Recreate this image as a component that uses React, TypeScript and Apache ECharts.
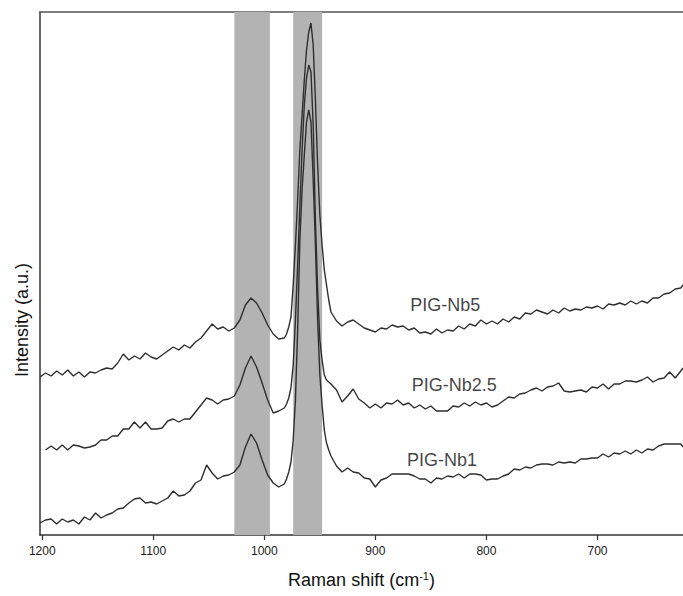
import React, { useEffect, useRef } from "react";
import * as echarts from "echarts";

// Raman shift (cm-1), shared x grid
const ramanShift = [
  1202, 1197, 1192, 1187, 1182, 1177, 1172, 1167, 1162, 1157, 1152, 1147, 1142, 1137, 1132, 1127, 1122, 1117, 1112, 1107,
  1102, 1097, 1092, 1087, 1082, 1077, 1072, 1067, 1062, 1057, 1052, 1047, 1042, 1037, 1032, 1027, 1022, 1017, 1012, 1007,
  1002, 997, 992, 987, 982,
  980, 978, 976, 974, 972, 970, 968, 966, 964, 962, 960, 958, 956, 954, 952, 950, 948, 946, 944, 942, 940,
  935, 930, 925, 920, 915, 910, 905, 900, 895, 890, 885, 880, 875, 870, 865, 860, 855, 850, 845, 840,
  835, 830, 825, 820, 815, 810, 805, 800, 795, 790, 785, 780, 775, 770, 765, 760, 755, 750, 745, 740,
  735, 730, 725, 720, 715, 710, 705, 700, 695, 690, 685, 680, 675, 670, 665, 660, 655, 650, 645, 640,
  635, 630, 625, 623,
];

const nb5 = [
  158, 162, 159, 164, 160, 165, 159, 163, 158, 163, 162, 165, 167, 166, 172, 181, 175, 179, 176, 182,
  178, 176, 180, 184, 188, 185, 190, 187, 193, 197, 204, 211, 206, 208, 204, 207, 215, 230, 237, 232,
  222, 210, 201, 196, 197,
  201, 208, 218, 250, 290, 335, 385, 420, 455, 485, 503, 512, 490, 435, 370, 320, 290, 265, 250, 235, 223,
  214, 209, 213, 215, 211, 207, 205, 203, 207, 206, 210, 208, 209, 205, 207, 202, 203, 201, 206, 202,
  205, 204, 209, 206, 211, 209, 215, 211, 214, 211, 216, 213, 218, 216, 222, 221, 225, 223, 221, 225,
  222, 227, 224, 226, 225, 228, 227, 229, 226, 231, 230, 232, 230, 234, 231, 234, 232, 237, 237, 241,
  242, 246, 247, 250,
];

const nb25 = [
  null, 85, 89, 85, 90, 85, 90, 89, 87, 88, 90, 95, 95, 99, 99, 106, 106, 113, 107, 113,
  106, 106, 107, 114, 116, 113, 116, 116, 123, 130, 137, 135, 131, 135, 136, 139, 150, 167, 179, 168,
  152, 135, 122, 124, 127,
  131, 137, 147, 170, 215, 270, 330, 385, 430, 457, 470, 463, 410, 315, 245, 195, 175, 160, 155, 153, 151,
  145, 133, 139, 146, 136, 132, 127, 131, 127, 132, 131, 135, 130, 132, 127, 130, 126, 129, 124, 124,
  124, 129, 128, 132, 129, 133, 130, 132, 128, 130, 134, 138, 137, 141, 142, 145, 147, 144, 148, 149,
  152, 144, 143, 144, 145, 143, 148, 147, 151, 146, 151, 151, 154, 154, 153, 155, 158, 153, 156, 157,
  163, 157, 164, 167,
];

const nb1 = [
  12, 15, 16, 11, 16, 13, 15, 11, 18, 15, 22, 17, 20, 22, 26, 27, 32, 36, 37, 32,
  33, 31, 34, 37, 44, 39, 40, 44, 52, 55, 70, 62, 56, 59, 60, 63, 70, 88, 101, 92,
  75, 60, 52, 48, 51,
  56, 63, 73, 95, 135, 205, 295, 345, 380, 413, 425, 413, 355, 290, 215, 160, 130, 105, 92, 85, 79,
  69, 63, 67, 63, 62, 57, 56, 48, 55, 57, 61, 61, 61, 61, 59, 56, 56, 52, 57, 56,
  59, 58, 61, 57, 61, 61, 60, 55, 56, 56, 59, 61, 66, 65, 68, 67, 70, 71, 71, 70,
  73, 72, 73, 72, 76, 76, 77, 77, 81, 78, 82, 81, 84, 81, 85, 82, 86, 85, 89, 91,
  91, 91, 91, 88,
];

const seriesNames = ["PIG-Nb5", "PIG-Nb2.5", "PIG-Nb1"];
const labelX = [837, 829, 840];
const labelY = [230, 150, 75];

const bands = [
  [1027, 995],
  [974, 948],
];

const xTicks = [1200, 1100, 1000, 900, 800, 700];

const FONT = "'Liberation Sans', Arial, Helvetica, sans-serif";

export default function App() {
  const ref = useRef<HTMLDivElement>(null);

  useEffect(() => {
    if (!ref.current) return;
    const chart = echarts.init(ref.current, undefined, { renderer: "svg" });
    const toPairs = (ys: (number | null)[]) => ramanShift.map((x, i) => [x, ys[i]]);
    const lineStyle = { color: "#2e2e2e", width: 1.4 };

    chart.setOption({
      animation: false,
      backgroundColor: "#ffffff",
      grid: { left: 40, right: 0, top: 12, bottom: 61 },
      xAxis: [
        {
          type: "value",
          inverse: true,
          min: 623,
          max: 1202,
          position: "bottom",
          axisLine: { show: true, lineStyle: { color: "#333", width: 1.5 } },
          axisTick: { show: true, length: 5, customValues: xTicks, lineStyle: { color: "#333", width: 1.2 } },
          axisLabel: {
            show: true,
            customValues: xTicks,
            formatter: (v: number) => String(v),
            margin: 10,
            fontSize: 12,
            fontFamily: FONT,
            color: "#1a1a1a",
          },
          splitLine: { show: false },
          name: "{a|Raman shift (cm}{s|-1}{a|)}",
          nameLocation: "middle",
          nameGap: 35,
          nameTextStyle: {
            rich: {
              a: { fontSize: 18, fontFamily: FONT, color: "#111" },
              s: { fontSize: 11, fontFamily: FONT, color: "#111", verticalAlign: "top", padding: [0, 0, 8, 0] },
            },
          },
        },
        {
          type: "value",
          inverse: true,
          min: 623,
          max: 1202,
          position: "top",
          axisLine: { show: true, lineStyle: { color: "#555", width: 1.5 } },
          axisTick: { show: false },
          axisLabel: { show: false },
          splitLine: { show: false },
        },
      ],
      yAxis: {
        type: "value",
        min: 0,
        max: 523,
        axisLine: { show: true, lineStyle: { color: "#333", width: 1.5 } },
        axisTick: { show: false },
        axisLabel: { show: false },
        splitLine: { show: false },
      },
      graphic: [
        {
          type: "text",
          x: 22,
          y: 320,
          rotation: Math.PI / 2,
          style: {
            text: "Intensity (a.u.)",
            fontSize: 18,
            fontFamily: FONT,
            fill: "#111",
            textAlign: "center",
            textVerticalAlign: "middle",
          },
        },
      ],
      series: [
        {
          type: "line",
          name: "bands",
          data: [],
          z: 1,
          silent: true,
          markArea: {
            silent: true,
            itemStyle: { color: "#b3b3b3", opacity: 1 },
            data: bands.map((b) => [{ xAxis: b[0] }, { xAxis: b[1] }]),
          },
        },
        {
          type: "line",
          name: seriesNames[0],
          data: toPairs(nb5),
          showSymbol: false,
          symbol: "none",
          lineStyle,
          z: 3,
        },
        {
          type: "line",
          name: seriesNames[1],
          data: toPairs(nb25),
          showSymbol: false,
          symbol: "none",
          lineStyle,
          z: 3,
        },
        {
          type: "line",
          name: seriesNames[2],
          data: toPairs(nb1),
          showSymbol: false,
          symbol: "none",
          lineStyle,
          z: 3,
        },
        {
          type: "scatter",
          symbolSize: 0,
          z: 4,
          silent: true,
          data: seriesNames.map((n, i) => ({ name: n, value: [labelX[i], labelY[i]] })),
          label: {
            show: true,
            position: "inside",
            formatter: "{b}",
            fontSize: 18,
            fontFamily: FONT,
            color: "#111",
          },
        },
      ],
    });

    return () => chart.dispose();
  }, []);

  return (
    <div
      ref={ref}
      style={{ position: "fixed", left: 0, top: 0, width: 683, height: 596, background: "#fff" }}
    />
  );
}
